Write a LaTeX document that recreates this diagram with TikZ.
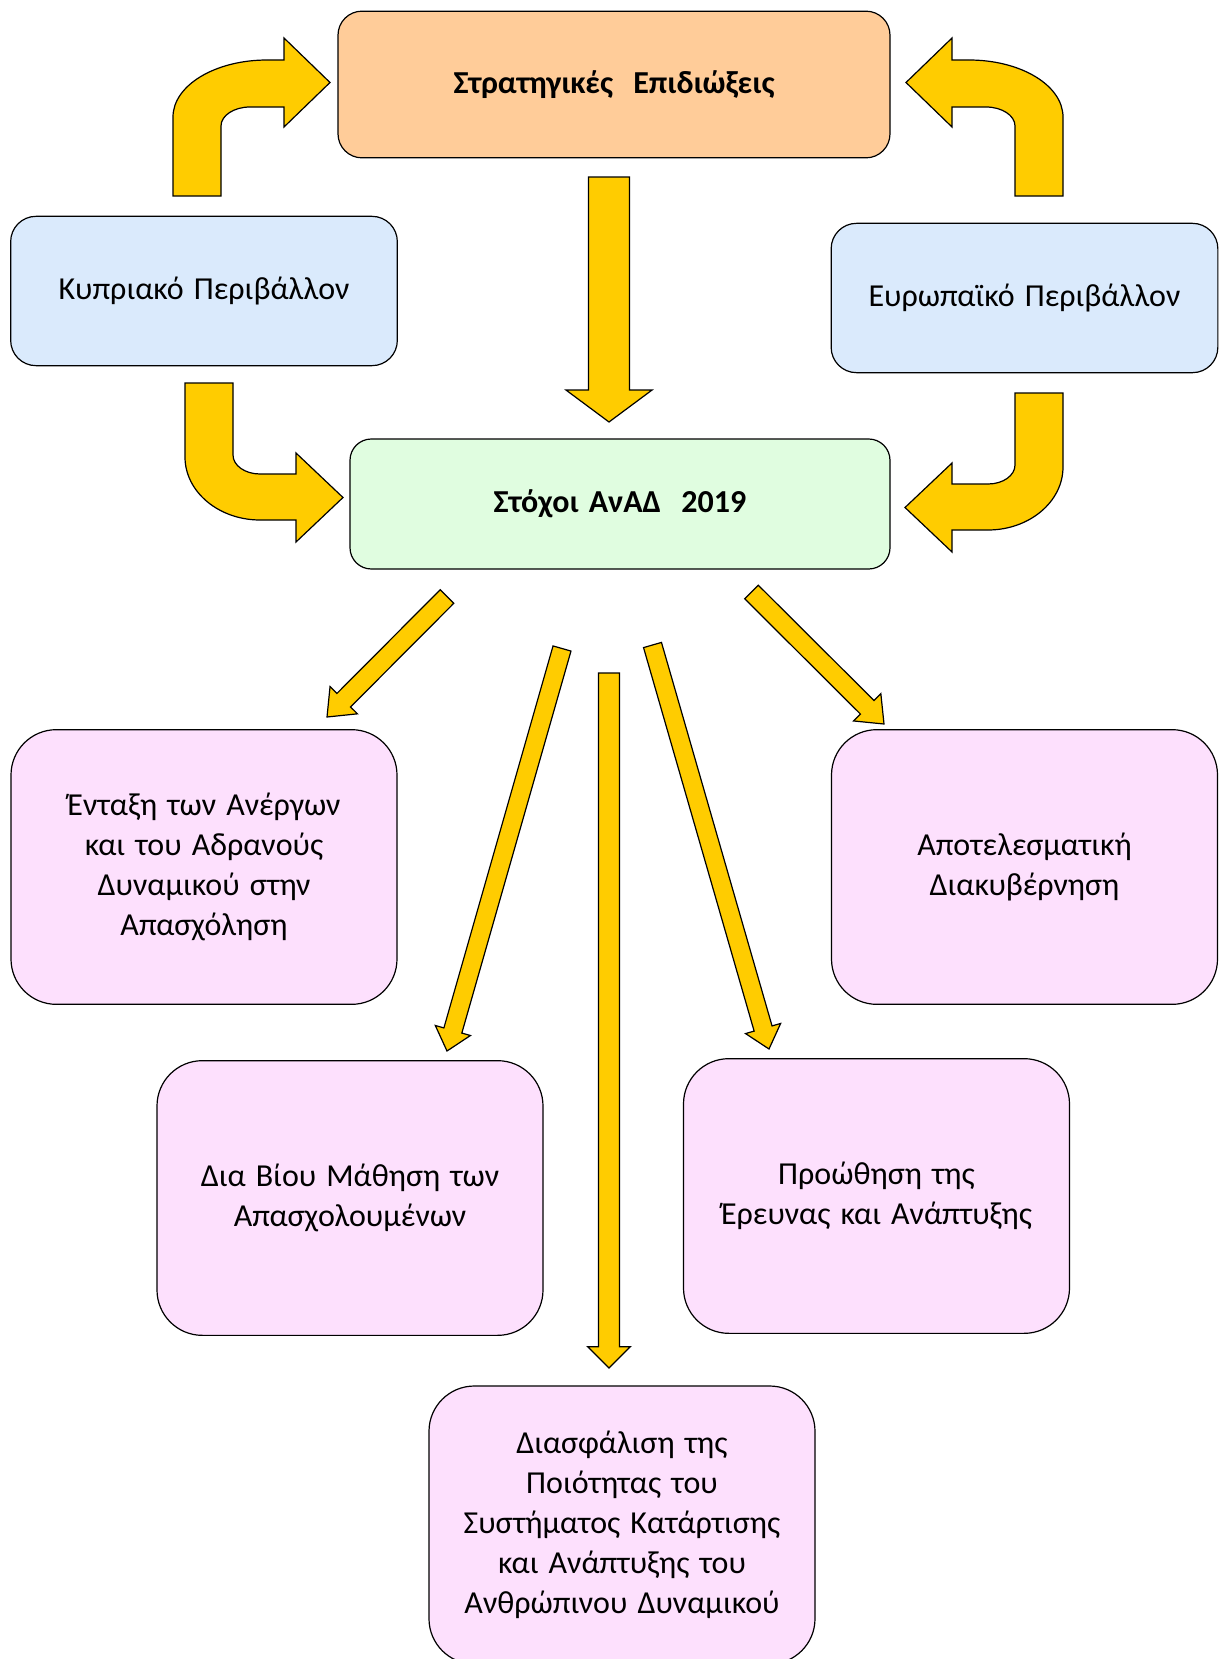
\documentclass[tikz,border=0pt]{standalone}
\usepackage{fontspec}
\setmainfont[WordSpace=1.4]{Carlito}
\usetikzlibrary{calc}

\definecolor{arrowyellow}{RGB}{255,204,0}
\definecolor{peach}{RGB}{255,204,153}
\definecolor{skyblue}{RGB}{218,234,252}
\definecolor{mint}{RGB}{224,253,224}
\definecolor{lilac}{RGB}{253,224,253}

% block arrow: tail, tip, half shaft, half head, head length
\newcommand{\blockarrow}[5]{%
  \coordinate (#1#2b) at ($(#2)!#5!(#1)$);
  \draw[blockline] ($(#1)!#3!90:(#2)$) -- ($(#1#2b)!#3!90:(#2)$) -- ($(#1#2b)!#4!90:(#2)$) -- (#2)
    -- ($(#1#2b)!#4!-90:(#2)$) -- ($(#1#2b)!#3!-90:(#2)$) -- ($(#1)!#3!-90:(#2)$) -- cycle;
}

\begin{document}
\begin{tikzpicture}[x=0.75pt,y=0.75pt,yscale=-1,xscale=1,
  blockline/.style={draw=black,line width=0.9pt,fill=arrowyellow,line join=miter},
  box/.style={draw=black,line width=0.9pt,align=center,inner sep=0pt,font=\fontsize{24}{30}\selectfont},
  topbox/.style={box,fill=peach,rounded corners=18pt,minimum width=414pt,minimum height=110pt,font=\fontsize{24}{30}\selectfont\bfseries},
  envbox/.style={box,fill=skyblue,rounded corners=19pt,minimum width=290pt,minimum height=112pt},
  goalbox/.style={box,fill=mint,rounded corners=16pt,minimum width=405pt,minimum height=97.5pt,font=\fontsize{24}{30}\selectfont\bfseries},
  aimbox/.style={box,fill=lilac,rounded corners=34pt,minimum width=289.5pt,minimum height=206pt}]
\useasboundingbox (0,0) rectangle (1220,1659);

%Boxes
\node[topbox] (strat) at (614,84.5) {Στρατηγικές\ \ Επιδιώξεις};
\node[envbox] (cyprus) at (204,291) {Κυπριακό Περιβάλλον};
\node[envbox] (europe) at (1024.5,298) {Ευρωπαϊκό Περιβάλλον};
\node[goalbox] (goals) at (620,504) {Στόχοι ΑνΑΔ\ \ 2019};
\node[aimbox] (entaxi) at (204,867) {Ένταξη των Ανέργων\\και του Αδρανούς\\Δυναμικού στην\\Απασχόληση};
\node[aimbox] (govern) at (1024.5,867) {Αποτελεσματική\\Διακυβέρνηση};
\node[aimbox] (lifelong) at (350,1198) {Δια Βίου Μάθηση των\\Απασχολουμένων};
\node[aimbox] (research) at (876.5,1196) {Προώθηση της\\Έρευνας και Ανάπτυξης};
\node[aimbox,minimum height=208.5pt] (quality) at (622,1525) {Διασφάλιση της\\Ποιότητας του\\Συστήματος Κατάρτισης\\και Ανάπτυξης του\\Ανθρώπινου Δυναμικού};

%Curved arrows
\draw[blockline] (173,196) -- (173,117) .. controls (173,85.5) and (215,60) .. (267,60) -- (284,60) -- (284,38) -- (330,82.5) -- (284,127) -- (284,107) -- (250,107) .. controls (234,107) and (221,115.5) .. (221,126) -- (221,196) -- cycle;
\draw[blockline] (1063,196) -- (1063,117) .. controls (1063,85.5) and (1021,60) .. (969,60) -- (952,60) -- (952,38) -- (906,82.5) -- (952,127) -- (952,107) -- (986,107) .. controls (1002,107) and (1015,115.5) .. (1015,126) -- (1015,196) -- cycle;
\draw[blockline] (185,383) -- (185,457) .. controls (185,492) and (219,520) .. (260,520) -- (296,520) -- (296,542) -- (343,497.5) -- (296,453) -- (296,474) -- (260,474) .. controls (245,474) and (233,465.5) .. (233,455) -- (233,383) -- cycle;
\draw[blockline] (1063,393) -- (1063,467) .. controls (1063,502) and (1029,530) .. (988,530) -- (952,530) -- (952,552) -- (905,507.5) -- (952,463) -- (952,484) -- (988,484) .. controls (1003,484) and (1015,475.5) .. (1015,465) -- (1015,393) -- cycle;

%Straight arrows
\coordinate (downs) at (609,177);
\coordinate (downe) at (609,422);
\coordinate (ldiags) at (447,596.5);
\coordinate (ldiage) at (327,717);
\coordinate (rdiags) at (751.5,592);
\coordinate (rdiage) at (884,724);
\coordinate (llongs) at (562,648.5);
\coordinate (llonge) at (447,1051);
\coordinate (rlongs) at (652.5,645);
\coordinate (rlonge) at (769,1049);
\coordinate (clongs) at (609,673);
\coordinate (clonge) at (609,1368);
\blockarrow{downs}{downe}{15.4pt}{32.3pt}{24pt}
\blockarrow{ldiags}{ldiage}{7.2pt}{14.5pt}{17.8pt}
\blockarrow{rdiags}{rdiage}{7.2pt}{14.5pt}{17.8pt}
\blockarrow{llongs}{llonge}{7pt}{13.7pt}{16pt}
\blockarrow{rlongs}{rlonge}{7pt}{13.7pt}{16pt}
\blockarrow{clongs}{clonge}{7.9pt}{16pt}{16pt}

\end{tikzpicture}
\end{document}
